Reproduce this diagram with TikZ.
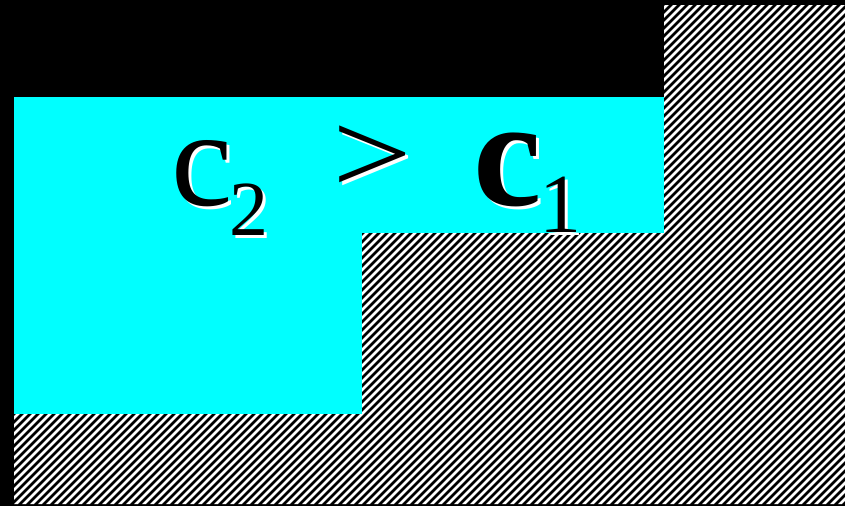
\documentclass[tikz,border=0pt]{standalone}
\usepackage{fontspec}
\setmainfont{Liberation Serif}
\definecolor{water}{RGB}{0,255,255}
% glyph with a white shadow behind it: name, x, y, font, text
\newcommand{\shadowglyph}[5]{%
  \node[white, font=#4, anchor=base west] (#1s) at (#2+3,#3+3) {#5};
  \node[black, font=#4, anchor=base west] (#1) at (#2,#3) {#5};
}

\begin{document}
\begin{tikzpicture}[x=1pt, y=-1pt, inner sep=0pt, outer sep=0pt]
  % background
  \fill[black] (0,0) rectangle (845,506);
  \useasboundingbox (0,0) rectangle (845,506);

  % cyan region (two steps)
  \fill[water] (14,97) -- (664,97) -- (664,233) -- (362,233)
    -- (362,414) -- (14,414) -- cycle;

  % hatched ground
  \begin{scope}
    \clip (14,414) -- (362,414) -- (362,233) -- (664,233) -- (664,5)
      -- (845,5) -- (845,504) -- (14,504) -- cycle;
    \fill[black] (0,0) rectangle (845,506);
    \foreach \i in {0,...,200}
      \draw[white, line width=2.7pt] (-700+8*\i,540) -- ++(700,-700);
  \end{scope}

  % label c_2 > c_1
  \shadowglyph{ctwo}{171.5}{205.6}{\fontsize{138}{138}\selectfont}{c}
  \shadowglyph{ctwosub}{229.7}{235}{\fontsize{78}{78}\selectfont}{2}
  \shadowglyph{gt}{332}{193}{\fontsize{118}{118}\selectfont}{\scalebox{1.2}[1]{>}}
  \shadowglyph{cone}{473}{205}{\fontsize{154}{154}\selectfont\bfseries}{c}
  \shadowglyph{conesub}{539}{232}{\fontsize{84}{84}\selectfont}{1}
\end{tikzpicture}
\end{document}
